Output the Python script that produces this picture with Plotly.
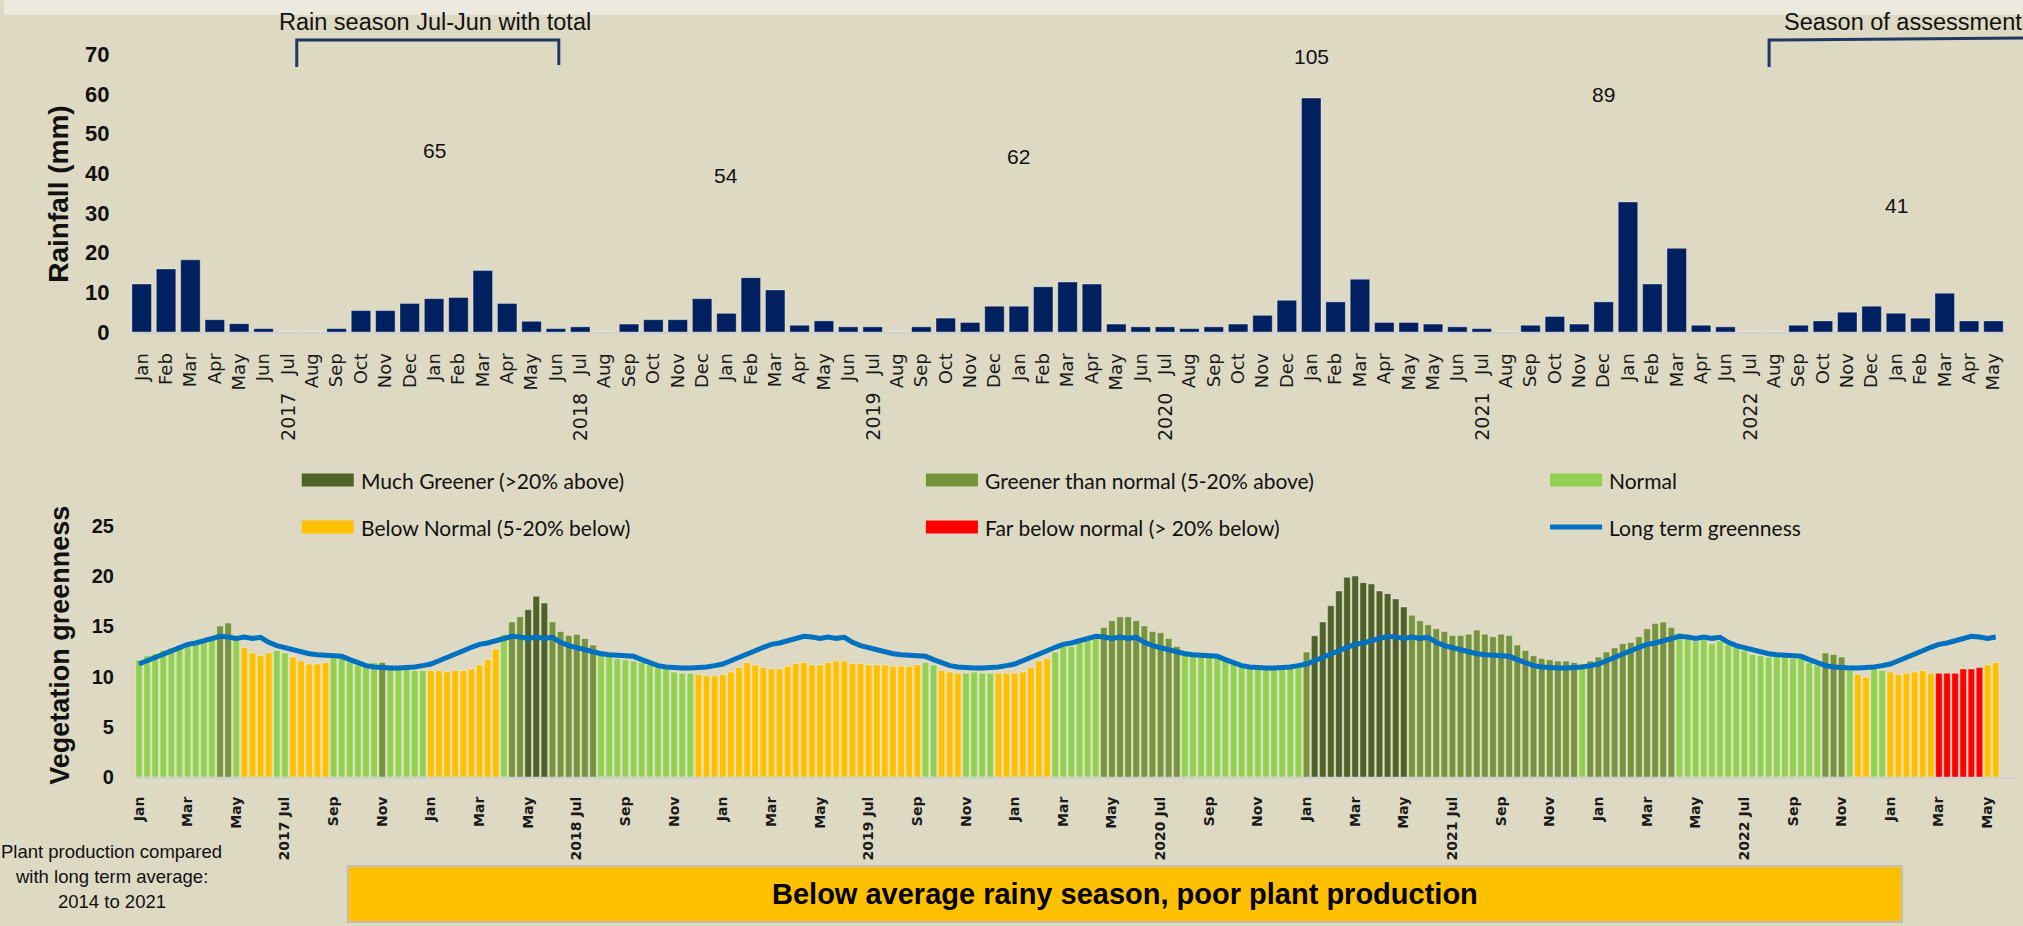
import plotly.graph_objects as go

W, H = 2023, 926
BG = "#DDD9C3"

# calibration of target screen pixels -> paper fractions (measured from the renderer's placement)
SX, OX = 0.9978, 4.3
SY, OY = 0.973, 13.0


def px(x):
    return ((x - OX) / SX) / W


def py(y):
    return 1 - ((y - OY) / SY) / H


# ---------------- Rainfall (monthly) ----------------
rain_months = [
    "Jan", "Feb", "Mar", "Apr", "May", "Jun", "Jul", "Aug", "Sep", "Oct", "Nov", "Dec",
    "Jan", "Feb", "Mar", "Apr", "May", "Jun", "Jul", "Aug", "Sep", "Oct", "Nov", "Dec",
    "Jan", "Feb", "Mar", "Apr", "May", "Jun", "Jul", "Aug", "Sep", "Oct", "Nov", "Dec",
    "Jan", "Feb", "Mar", "Apr", "May", "Jun", "Jul", "Aug", "Sep", "Oct", "Nov", "Dec",
    "Jan", "Feb", "Mar", "Apr", "May", "May", "Jun", "Jul", "Aug", "Sep", "Oct", "Nov", "Dec",
    "Jan", "Feb", "Mar", "Apr", "Jun", "Jul", "Aug", "Sep", "Oct", "Nov", "Dec",
    "Jan", "Feb", "Mar", "Apr", "May",
]
rain_mm = [
    12.1, 15.9, 18.2, 3.1, 2.1, 0.85, 0, 0, 0.85, 5.4, 5.4, 7.2,
    8.4, 8.7, 15.5, 7.2, 2.7, 0.85, 1.3, 0, 2.0, 3.1, 3.1, 8.4,
    4.7, 13.7, 10.6, 1.7, 2.8, 1.3, 1.3, 0, 1.3, 3.5, 2.4, 6.5,
    6.5, 11.4, 12.6, 12.1, 2.0, 1.3, 1.3, 0.85, 1.3, 2.0, 4.2, 8.0,
    59.0, 7.6, 13.3, 2.4, 2.4, 2.0, 1.3, 0.85, 0, 1.7, 3.9, 2.0, 7.6,
    32.8, 12.1, 21.1, 1.7, 1.3, 0, 0, 1.7, 2.8, 5.0, 6.5,
    4.7, 3.5, 9.8, 2.8, 2.8,
]
rain_year_labels = ["2017", "2018", "2019", "2020", "2021", "2022"]
season_totals = [65, 54, 62, 105, 89, 41]

# layout positions of the season-total labels (category index, height in mm)
total_label_x = [12, 24, 36, 48, 60, 72]
total_label_y = [45.9, 39.4, 44.3, 69.4, 59.9, 31.9]

# ---------------- Vegetation greenness (dekadal, Jan 2017 - May 2023) ----------------
greenness = [
    11.65, 12.08, 12.3, 12.65, 12.9, 13.15, 13.35, 13.5, 13.75, 13.94, 15.04, 15.33,
    13.8, 12.9, 12.35, 12.08, 12.35, 12.6, 12.35, 11.95, 11.55, 11.25, 11.25, 11.4,
    11.85, 11.85, 11.45, 11.15, 11.02, 11.4, 11.4, 10.76, 10.76, 10.76, 10.6, 10.6,
    10.6, 10.6, 10.45, 10.6, 10.6, 10.76, 11.16, 11.68, 12.75, 14.2, 15.44, 15.97,
    16.67, 18.0, 17.33, 15.44, 14.5, 14.1, 14.2, 13.8, 13.15, 12.6, 12.08, 11.8,
    11.68, 11.55, 11.4, 11.16, 10.9, 10.76, 10.45, 10.33, 10.33, 10.2, 10.06, 10.06,
    10.2, 10.45, 10.9, 11.4, 11.16, 10.9, 10.76, 10.76, 11.02, 11.3, 11.4, 11.16,
    11.16, 11.4, 11.55, 11.55, 11.3, 11.3, 11.16, 11.16, 11.16, 11.02, 11.02, 11.02,
    11.16, 11.4, 11.16, 10.6, 10.45, 10.33, 10.33, 10.45, 10.33, 10.33, 10.33, 10.33,
    10.33, 10.45, 10.9, 11.55, 11.8, 12.45, 12.99, 12.99, 13.4, 13.8, 13.94, 14.9,
    15.57, 15.97, 15.97, 15.57, 15.04, 14.5, 14.37, 13.8, 12.99, 12.6, 12.2, 12.2,
    12.08, 12.08, 11.68, 11.4, 11.16, 11.16, 11.02, 11.02, 10.9, 10.9, 11.02, 11.02,
    12.45, 14.07, 15.44, 17.06, 18.52, 19.89, 20.02, 19.36, 19.22, 18.52, 18.26, 17.73,
    16.93, 16.1, 15.57, 15.17, 14.77, 14.5, 14.1, 14.1, 14.23, 14.63, 14.23, 13.97,
    14.23, 14.1, 13.15, 12.6, 12.08, 11.8, 11.68, 11.55, 11.55, 11.4, 11.3, 11.55,
    11.95, 12.45, 12.86, 13.26, 13.4, 13.97, 14.77, 15.3, 15.44, 14.9, 14.37, 13.8,
    13.55, 13.68, 13.26, 13.55, 13.15, 12.9, 12.6, 12.2, 12.08, 11.95, 11.95, 11.95,
    11.8, 11.8, 11.4, 11.16, 12.35, 12.2, 11.95, 10.62, 10.2, 9.93, 10.76, 10.62,
    10.45, 10.2, 10.33, 10.45, 10.6, 10.33, 10.33, 10.33, 10.33, 10.76, 10.76, 10.9,
    11.16, 11.4,
]
# M = much greener, G = greener, N = normal, B = below normal, R = far below normal
green_class = list(
    "NNNNNNNNNNGGNBBBBNNBBBBBNNNNNNGNNNNN"
    "BBBBBBBBBNGGMMMGGGGGGNNNNNNNNNNNNBBB"
    "BBBBBBBBBBBBBBBBBBBBBBBBBNNBBBNNNNBB"
    "BBBBBNNNNNNGGGGGGGGGGNNNNNNNNNNNNNNN"
    "GMMMMMMMMMMMMGGGGGGGGGGGGGGGGGGGGGNG"
    "GGGGGGGGGGNNNNNNNNNNNNNNNNNNGGGNBBNN"
    "BBBBBBRRRRRRBB"
)
# long term (2014-2021) average greenness for each dekad of the year
lta_by_dekad = [
    11.25, 11.58, 11.88, 12.15, 12.58, 12.92, 13.21, 13.35, 13.61, 13.88, 14.01, 13.94,
    13.81, 13.94, 13.81, 13.91, 13.41, 13.08, 12.88, 12.68, 12.45, 12.28, 12.18, 12.15,
    12.05, 12.02, 11.69, 11.35, 11.09, 10.96, 10.86, 10.86, 10.86, 10.86, 10.96, 11.09,
]
green_tick_labels = [
    "Jan", "Mar", "May", "2017 Jul", "Sep", "Nov",
    "Jan", "Mar", "May", "2018 Jul", "Sep", "Nov",
    "Jan", "Mar", "May", "2019 Jul", "Sep", "Nov",
    "Jan", "Mar", "May", "2020 Jul", "Sep", "Nov",
    "Jan", "Mar", "May", "2021 Jul", "Sep", "Nov",
    "Jan", "Mar", "May", "2022 Jul", "Sep", "Nov",
    "Jan", "Mar", "May",
]
class_names = {
    "M": "Much Greener (>20% above)",
    "G": "Greener than normal (5-20% above)",
    "N": "Normal",
    "B": "Below Normal (5-20% below)",
    "R": "Far below normal (> 20% below)",
}
class_colors = {"M": "#4F6228", "G": "#77933C", "N": "#92D050", "B": "#FFC000", "R": "#FF0000"}
LTA_COLOR = "#0070C0"

n_rain = len(rain_months)
n_green = len(greenness)
rain_x = list(range(n_rain))
green_x = list(range(n_green))
lta = [lta_by_dekad[i % len(lta_by_dekad)] for i in range(n_green)]

fig = go.Figure()

fig.add_trace(go.Bar(
    x=rain_x, y=rain_mm, width=0.8,
    marker=dict(color="#002060", line=dict(color="rgba(255,255,255,0.35)", width=1)),
    xaxis="x", yaxis="y", showlegend=False, name="Rainfall",
))

for code in ["M", "G", "N", "B", "R"]:
    fig.add_trace(go.Bar(
        x=green_x,
        y=[v if c == code else None for v, c in zip(greenness, green_class)],
        width=0.8,
        marker=dict(color=class_colors[code], line=dict(color="rgba(255,255,255,0.35)", width=1)),
        xaxis="x2", yaxis="y2", name=class_names[code], showlegend=False,
    ))

fig.add_trace(go.Scatter(
    x=green_x, y=lta, mode="lines", line=dict(color=LTA_COLOR, width=5),
    xaxis="x2", yaxis="y2", name="Long term greenness", showlegend=False,
))

ann = []
shapes = []


def note(x, y, text, size, family="Liberation Sans", xanchor="center", angle=0, color="#111111"):
    ann.append(dict(x=x, y=y, xref="paper", yref="paper", text=text, showarrow=False,
                    xanchor=xanchor, yanchor="middle", textangle=angle,
                    font=dict(family=family, size=size, color=color)))


# year labels under the Jul category of each year (top chart)
jul_idx = [i for i, m in enumerate(rain_months) if m == "Jul"]
for yr, i in zip(rain_year_labels, jul_idx):
    ann.append(dict(x=i, y=py(418), xref="x", yref="paper", text=yr, textangle=-90, showarrow=False,
                    xanchor="center", yanchor="middle",
                    font=dict(family="DejaVu Sans", size=19, color="#1a1a1a")))

# season totals
for t, xi, yi in zip(season_totals, total_label_x, total_label_y):
    ann.append(dict(x=xi, y=yi, xref="x", yref="y", text=str(t), showarrow=False,
                    xanchor="center", yanchor="middle",
                    font=dict(family="Liberation Sans", size=21, color="#111111")))

# axis titles
note(px(58), py(195), "<b>Rainfall (mm)</b>", 28, angle=-90)
note(px(60), py(646), "<b>Vegetation greenness</b>", 27, angle=-90)

# brackets and their captions
BR = "#1F3864"
shapes.append(dict(type="path", xref="paper", yref="paper",
                   path=f"M {px(297)} {py(68)} L {px(297)} {py(41)} L {px(559)} {py(41)} L {px(559)} {py(66)}",
                   line=dict(color=BR, width=3)))
shapes.append(dict(type="path", xref="paper", yref="paper",
                   path=f"M {px(1769)} {py(68)} L {px(1769)} {py(41)} L {px(2030)} {py(39)}",
                   line=dict(color=BR, width=3)))
note(px(435), py(23), "Rain season Jul-Jun with total", 23.5)
note(px(1782), py(23), "Season of assessment", 23.5, xanchor="left")

# manual legend
legend_items = [
    ("M", 302, 481), ("G", 926, 481), ("N", 1550, 481),
    ("B", 302, 528), ("R", 926, 528),
]
for code, lx, ly in legend_items:
    shapes.append(dict(type="rect", xref="paper", yref="paper", x0=px(lx), x1=px(lx + 52),
                       y0=py(ly + 6.5), y1=py(ly - 6.5), fillcolor=class_colors[code], line=dict(width=0)))
    note(px(lx + 57), py(ly), class_names[code], 21, family="Lato", xanchor="left")
shapes.append(dict(type="line", xref="paper", yref="paper", x0=px(1550), x1=px(1602), y0=py(528), y1=py(528),
                   line=dict(color=LTA_COLOR, width=5)))
note(px(1607), py(528), "Long term greenness", 21, family="Lato", xanchor="left")

# bottom notes
for txt, yy in [("Plant production compared", 852), ("with long term average:", 877), ("2014 to 2021", 902)]:
    note(px(112), py(yy), txt, 18.5)
shapes.append(dict(type="rect", xref="paper", yref="paper", x0=px(348), x1=px(1902), y0=py(923), y1=py(867),
                   fillcolor="#FFC000", line=dict(color="#BFBFBF", width=2)))
note(px(1125), py(895), "<b>Below average rainy season, poor plant production</b>", 29, color="#000000")

# soft white fade at the very top
shapes.append(dict(type="rect", xref="paper", yref="paper", x0=0, x1=1, y0=py(16), y1=1.05,
                   fillcolor="rgba(255,255,255,0.45)", line=dict(width=0), layer="above"))

fig.update_layout(
    width=W, height=H,
    margin=dict(l=0, r=0, t=0, b=0),
    paper_bgcolor=BG, plot_bgcolor=BG,
    barmode="overlay",
    showlegend=False,
    annotations=ann,
    shapes=shapes,
    xaxis=dict(
        domain=[px(129.8), px(2005.5)], range=[-0.5, n_rain - 0.5], anchor="y",
        tickmode="array", tickvals=rain_x, ticktext=rain_months, tickangle=-90,
        tickfont=dict(family="DejaVu Sans", size=18, color="#1a1a1a"),
        showgrid=False, zeroline=False, showline=True, linecolor="#D0D0D0", linewidth=2,
        ticks="", ticklabelstandoff=12,
    ),
    yaxis=dict(
        domain=[py(333), py(55.5)], range=[0, 70], anchor="x", dtick=10,
        tickfont=dict(family="Liberation Sans", size=22, color="#111111", weight="bold"),
        showgrid=False, zeroline=False, showline=False, ticks="", ticklabelstandoff=19,
    ),
    xaxis2=dict(
        domain=[px(135.2), px(2015.8)], range=[-0.5, n_green + 1.5], anchor="y2",
        tickmode="array", tickvals=green_x[::6], ticktext=green_tick_labels, tickangle=-90,
        tickfont=dict(family="DejaVu Sans", size=14, color="#1a1a1a", weight="bold"),
        showgrid=False, zeroline=False, showline=True, linecolor="#D0D0D0", linewidth=2,
        ticks="", ticklabelstandoff=12,
    ),
    yaxis2=dict(
        domain=[py(778), py(527)], range=[0, 25], anchor="x2", dtick=5,
        tickfont=dict(family="Liberation Sans", size=20, color="#111111", weight="bold"),
        showgrid=False, zeroline=False, showline=False, ticks="", ticklabelstandoff=20,
    ),
)

fig.write_html("out.html", config={"displayModeBar": False})

# remove the default page margin so the figure fills the window
with open("out.html", "r", encoding="utf-8") as f:
    html = f.read()
html = html.replace(
    "<head>",
    "<head><style>html,body{margin:0;padding:0;overflow:hidden;background:#FFFFFF;}</style>",
    1,
)
with open("out.html", "w", encoding="utf-8") as f:
    f.write(html)
